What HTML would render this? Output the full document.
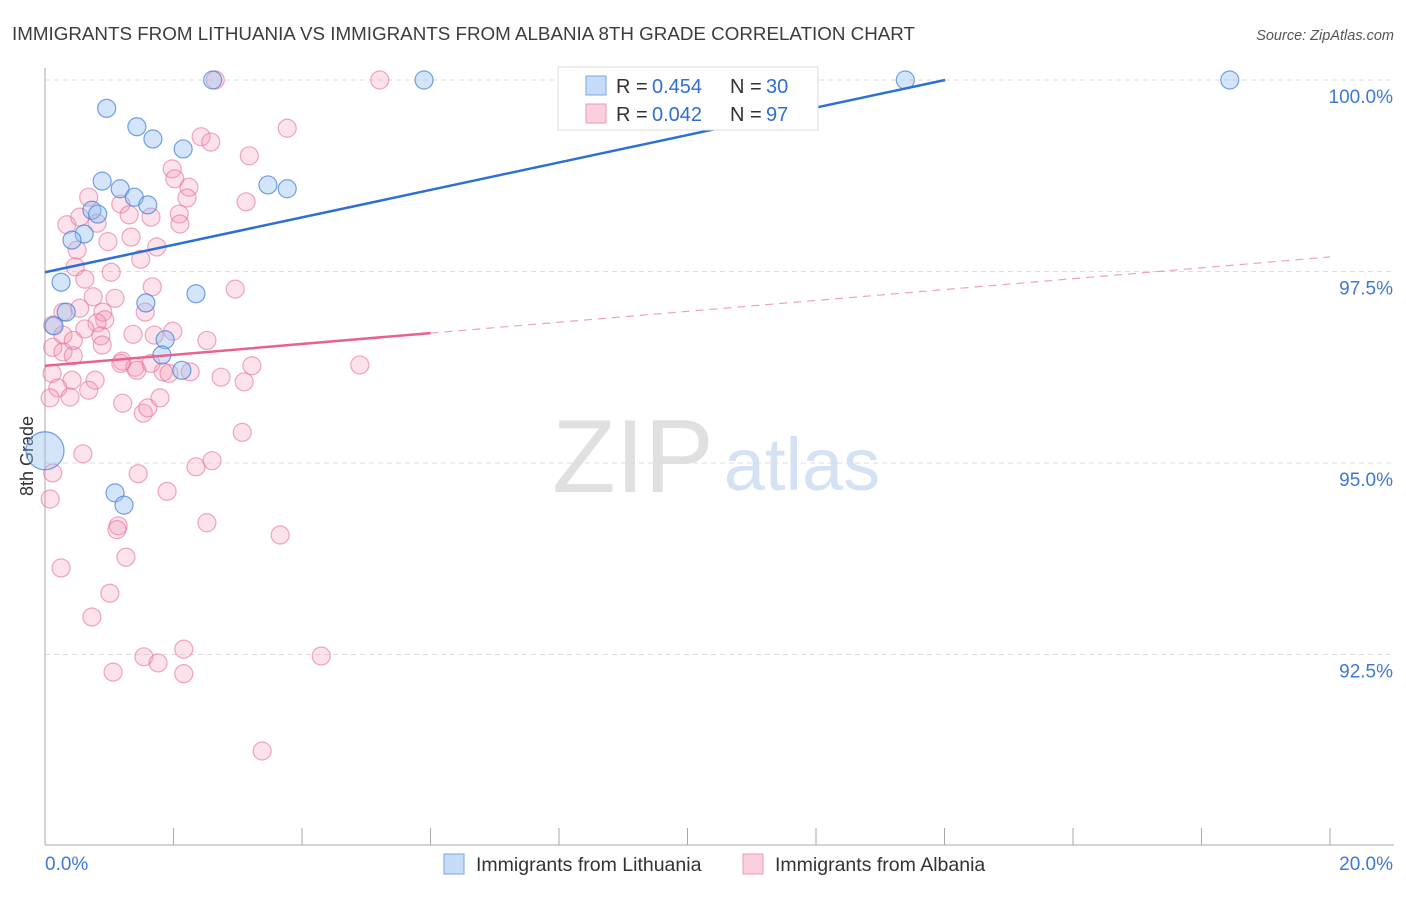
<!DOCTYPE html>
<html><head><meta charset="utf-8"><style>
body{margin:0;background:#fff;font-family:"Liberation Sans",sans-serif}
svg text{font-family:"Liberation Sans",sans-serif}
</style></head><body>
<svg id="chart" width="1406" height="892" xmlns="http://www.w3.org/2000/svg">
<text x="12" y="40" font-size="18" fill="#3c3c3c" textLength="903" lengthAdjust="spacingAndGlyphs">IMMIGRANTS FROM LITHUANIA VS IMMIGRANTS FROM ALBANIA 8TH GRADE CORRELATION CHART</text>
<text x="1394" y="40" font-size="14.5" fill="#555" text-anchor="end" font-style="italic">Source: ZipAtlas.com</text>
<g>
<text x="633" y="492" font-size="104" fill="#e0e0e0" font-family="Liberation Serif" text-anchor="middle">ZIP</text>
<text x="802" y="490" font-size="74" fill="#d4e2f3" text-anchor="middle">atlas</text>
</g>
<g id="grid"></g><g id="axes"></g><g id="pts"></g><g id="lines"></g>
<g>
<rect x="558" y="67" width="260" height="63" fill="#fff" stroke="#ddd"/>
<rect x="586" y="76" width="20" height="19" fill="#c5dbf7" stroke="#7aa6e6"/>
<rect x="586" y="104" width="20" height="19" fill="#fbd0dd" stroke="#ef9ab5"/>
<text y="93" font-size="20" fill="#333"><tspan x="616">R =</tspan><tspan x="652" fill="#2f6fd3">0.454</tspan><tspan x="730">N =</tspan><tspan x="766" fill="#2f6fd3">30</tspan></text>
<text y="121" font-size="20" fill="#333"><tspan x="616">R =</tspan><tspan x="652" fill="#2f6fd3">0.042</tspan><tspan x="730">N =</tspan><tspan x="766" fill="#2f6fd3">97</tspan></text>
</g>
<g>
<rect x="444" y="854" width="20" height="20" fill="#c5dbf7" stroke="#7aa6e6"/>
<text x="476" y="871" font-size="19.5" fill="#333">Immigrants from Lithuania</text>
<rect x="743" y="854" width="20" height="20" fill="#fbd0dd" stroke="#ef9ab5"/>
<text x="775" y="871" font-size="19.5" fill="#333">Immigrants from Albania</text>
</g>
</svg>
<script>
const blueX=[2.61,5.90,13.39,18.44,0.96,1.43,1.68,2.15,0.89,1.17,1.39,1.60,0.73,0.82,0.61,0.42,3.47,3.77,0.25,2.35,1.57,0.33,0.14,1.87,1.82,2.13,1.09,1.23,0.0];
const blueY=[100,100,100,100,99.63,99.39,99.23,99.10,98.68,98.58,98.47,98.37,98.30,98.25,97.99,97.91,98.63,98.58,97.36,97.21,97.09,96.97,96.79,96.61,96.41,96.21,94.61,94.45,95.16];
const blueR=[9,9,9,9,9,9,9,9,9,9,9,9,9,9,9,9,9,9,9,9,9,9,9,9,9,9,9,9,19];
const pinkX=[2.65,5.21,3.77,2.43,2.58,3.18,1.98,2.02,2.24,2.21,3.13,0.68,2.09,2.10,1.18,1.31,1.65,0.34,0.54,0.81,0.98,1.34,0.50,1.74,1.49,0.47,1.03,1.67,2.96,0.75,1.09,0.54,0.28,0.90,0.93,0.81,1.56,0.62,0.12,0.28,0.87,0.89,1.37,1.70,1.99,0.12,0.28,0.44,1.20,1.40,1.43,1.84,1.93,2.26,2.74,3.10,3.22,4.90,0.11,0.42,0.78,0.20,0.68,0.08,0.39,1.21,1.53,1.60,1.79,3.07,0.59,0.12,0.08,1.45,2.35,2.60,1.90,1.14,1.12,2.52,3.66,1.26,0.25,1.01,0.73,1.54,1.76,2.16,1.06,2.16,4.30,3.38,0.62,1.18,1.65,0.44,2.52];
const pinkY=[100,100,99.37,99.26,99.19,99.01,98.84,98.71,98.60,98.46,98.41,98.47,98.25,98.12,98.38,98.24,98.21,98.11,98.21,98.13,97.89,97.95,97.78,97.82,97.66,97.56,97.49,97.30,97.27,97.17,97.15,97.02,96.97,96.97,96.87,96.83,96.97,96.75,96.80,96.67,96.66,96.54,96.68,96.67,96.72,96.51,96.45,96.40,96.33,96.25,96.21,96.19,96.17,96.19,96.12,96.06,96.27,96.28,96.17,96.08,96.08,95.98,95.95,95.85,95.86,95.78,95.65,95.72,95.85,95.40,95.12,94.87,94.53,94.86,94.95,95.03,94.63,94.18,94.13,94.22,94.06,93.77,93.63,93.30,92.99,92.47,92.39,92.57,92.27,92.25,92.48,91.24,97.40,96.30,96.30,96.60,96.60];
const yTicks=[100,97.5,95,92.5];
const yTickLabels=["100.0%","97.5%","95.0%","92.5%"];
const xMinLabel="0.0%", xMaxLabel="20.0%";
const blueTrend=[97.49,100.0];
const blueTrendEnd=14.01;
const pinkTrend=[96.27,97.69];
const pinkSolidEnd=6.0;

const X=v=>45+v*64.25;
const Y=v=>80+(100-v)*76.6;
const NS="http://www.w3.org/2000/svg";
function mk(tag,attrs,parent){const e=document.createElementNS(NS,tag);for(const k in attrs)e.setAttribute(k,attrs[k]);parent.appendChild(e);return e;}
const grid=document.getElementById('grid'),axes=document.getElementById('axes'),pts=document.getElementById('pts'),lines=document.getElementById('lines');
yTicks.forEach((t,i)=>{
  const l=mk('line',{x1:45,x2:1394,y1:Y(t),y2:Y(t),stroke:'#ddd','stroke-dasharray':'5,4'},grid);
  
  
  const tx=mk('text',{x:1393,y:Y(t)+23,'font-size':19,fill:'#3f79d4','text-anchor':'end'},axes);
  tx.textContent=yTickLabels[i];
  
  
});
const ya=mk('line',{x1:45,x2:45,y1:68,y2:845,stroke:'#aaa'},axes);


const xa=mk('line',{x1:45,x2:1394,y1:845,y2:845,stroke:'#aaa'},axes);


for(let i=0;i<=10;i++){
  const tk=mk('line',{x1:X(i*2),x2:X(i*2),y1:828,y2:845,stroke:'#aaa'},axes);
  
  
}
const xl0=mk('text',{x:45,y:870,'font-size':19,fill:'#3f79d4'},axes);xl0.textContent=xMinLabel;


const xl1=mk('text',{x:1393,y:870,'font-size':19,fill:'#3f79d4','text-anchor':'end'},axes);xl1.textContent=xMaxLabel;


const yt=mk('text',{x:0,y:0,'font-size':18,fill:'#333','text-anchor':'middle',transform:'translate(33,456) rotate(-90)'},axes);yt.textContent='8th Grade';


pinkX.forEach((x,i)=>{
  const c=mk('circle',{cx:X(x),cy:Y(pinkY[i]),r:9,fill:'rgba(244,150,180,0.28)',stroke:'rgba(232,110,150,0.6)','stroke-width':1.2},pts);
  
  
});
blueX.forEach((x,i)=>{
  const c=mk('circle',{cx:X(x),cy:Y(blueY[i]),r:blueR[i],fill:'rgba(150,190,240,0.4)',stroke:'rgba(70,130,220,0.75)','stroke-width':1.2},pts);
  
  
});
const bl=mk('line',{x1:X(0),y1:Y(blueTrend[0]),x2:X(blueTrendEnd),y2:Y(blueTrend[1]),stroke:'#2d6fd6','stroke-width':2.5},lines);


const pAt=x=>pinkTrend[0]+(pinkTrend[1]-pinkTrend[0])*x/20;
const ps=mk('line',{x1:X(0),y1:Y(pAt(0)),x2:X(pinkSolidEnd),y2:Y(pAt(pinkSolidEnd)),stroke:'#e8628f','stroke-width':2.5},lines);


const pd=mk('line',{x1:X(pinkSolidEnd),y1:Y(pAt(pinkSolidEnd)),x2:X(20),y2:Y(pAt(20)),stroke:'#e8628f','stroke-width':1.2,'stroke-dasharray':'8,6',opacity:0.6},lines);


</script>
</body></html>
